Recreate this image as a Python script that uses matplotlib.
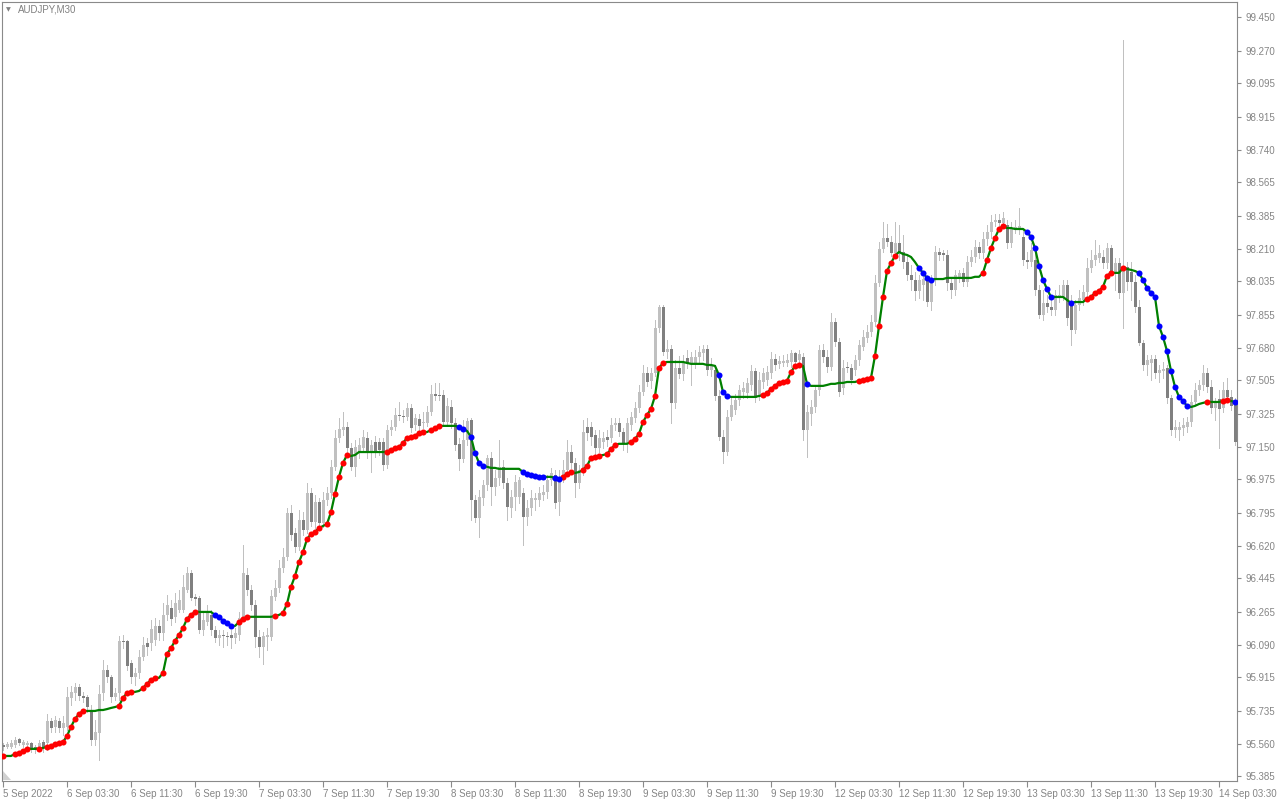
import matplotlib
matplotlib.use("Agg")
import matplotlib.pyplot as plt
import numpy as np
from matplotlib.patches import Polygon

symbol_title = "AUDJPY,M30"

opens = [
95.553, 95.543, 95.543, 95.553, 95.585, 95.553, 95.553, 95.564, 95.543, 95.543,
95.569, 95.564, 95.682, 95.650, 95.682, 95.644, 95.650, 95.805, 95.831, 95.864,
95.815, 95.810, 95.740, 95.580, 95.617, 95.831, 95.955, 95.918, 95.810, 95.831,
96.110, 96.110, 95.992, 95.918, 95.939, 96.024, 96.099, 96.099, 96.115, 96.190,
96.153, 96.249, 96.286, 96.239, 96.276, 96.276, 96.383, 96.474, 96.345, 96.340,
96.169, 96.211, 96.249, 96.169, 96.126, 96.142, 96.136, 96.142, 96.126, 96.142,
96.233, 96.463, 96.383, 96.302, 96.131, 96.077, 96.131, 96.131, 96.345, 96.393,
96.500, 96.560, 96.795, 96.688, 96.612, 96.757, 96.704, 96.902, 96.746, 96.854,
96.741, 96.865, 96.902, 97.042, 97.196, 97.239, 97.256, 97.143, 97.042, 97.121,
97.143, 97.196, 97.121, 97.175, 97.175, 97.175, 97.052, 97.239, 97.256, 97.319,
97.314, 97.309, 97.357, 97.266, 97.298, 97.277, 97.277, 97.335, 97.432, 97.426,
97.426, 97.282, 97.362, 97.277, 97.165, 97.084, 97.186, 97.293, 96.865, 96.768,
96.875, 96.945, 97.089, 96.934, 96.983, 97.042, 96.956, 96.822, 96.880, 96.880,
96.902, 96.774, 96.822, 96.865, 96.865, 96.891, 96.907, 96.972, 96.998, 96.854,
96.988, 97.025, 97.121, 97.063, 96.956, 97.025, 97.256, 97.256, 97.212, 97.143,
97.175, 97.202, 97.196, 97.266, 97.277, 97.228, 97.165, 97.266, 97.303, 97.357,
97.442, 97.544, 97.502, 97.544, 97.785, 97.898, 97.657, 97.673, 97.384, 97.571,
97.539, 97.625, 97.598, 97.598, 97.630, 97.652, 97.673, 97.560, 97.560, 97.421,
97.202, 97.121, 97.309, 97.346, 97.400, 97.442, 97.437, 97.480, 97.555, 97.416,
97.496, 97.507, 97.544, 97.620, 97.593, 97.598, 97.598, 97.603, 97.652, 97.614,
97.630, 97.239, 97.325, 97.362, 97.453, 97.668, 97.630, 97.577, 97.817, 97.710,
97.464, 97.577, 97.571, 97.560, 97.614, 97.684, 97.732, 97.764, 97.817, 98.026,
98.208, 98.267, 98.245, 98.187, 98.240, 98.192, 98.138, 98.069, 98.042, 97.984,
98.015, 98.042, 97.924, 98.042, 98.192, 98.187, 98.176, 98.026, 97.989, 98.059,
98.080, 98.031, 98.138, 98.165, 98.219, 98.187, 98.261, 98.299, 98.352, 98.363,
98.347, 98.336, 98.240, 98.310, 98.310, 98.273, 98.149, 98.138, 98.149, 97.989,
97.855, 97.919, 97.898, 97.882, 97.946, 97.951, 98.015, 97.919, 97.775, 97.908,
97.935, 97.978, 98.106, 98.149, 98.160, 98.165, 98.133, 98.213, 98.085, 98.133,
97.973, 98.112, 98.085, 98.031, 97.898, 97.705, 97.587, 97.598, 97.620, 97.544,
97.555, 97.571, 97.411, 97.239, 97.239, 97.250, 97.256, 97.282, 97.389, 97.453,
97.480, 97.544, 97.470, 97.357, 97.405, 97.357, 97.453, 97.416, 97.384,
]

closes = [
95.543, 95.559, 95.564, 95.580, 95.564, 95.569, 95.564, 95.537, 95.526, 95.564,
95.537, 95.682, 95.644, 95.687, 95.644, 95.671, 95.810, 95.837, 95.864, 95.815,
95.805, 95.757, 95.580, 95.622, 95.826, 95.955, 95.918, 95.810, 95.831, 96.110,
96.104, 95.976, 95.918, 95.939, 96.024, 96.088, 96.077, 96.174, 96.190, 96.153,
96.249, 96.302, 96.228, 96.313, 96.329, 96.399, 96.474, 96.340, 96.335, 96.169,
96.222, 96.260, 96.169, 96.126, 96.142, 96.136, 96.131, 96.126, 96.153, 96.233,
96.474, 96.383, 96.302, 96.131, 96.077, 96.136, 96.142, 96.351, 96.393, 96.500,
96.560, 96.795, 96.677, 96.612, 96.757, 96.704, 96.902, 96.746, 96.854, 96.741,
96.865, 96.902, 97.042, 97.196, 97.245, 97.256, 97.143, 97.042, 97.148, 97.159,
97.202, 97.121, 97.159, 97.121, 97.132, 97.052, 97.239, 97.256, 97.319, 97.314,
97.309, 97.357, 97.250, 97.303, 97.261, 97.282, 97.335, 97.432, 97.421, 97.421,
97.282, 97.368, 97.277, 97.159, 97.084, 97.186, 97.288, 96.865, 96.768, 96.880,
96.945, 97.089, 96.934, 96.983, 97.042, 96.956, 96.827, 96.880, 96.961, 96.972,
96.774, 96.822, 96.875, 96.875, 96.902, 96.907, 96.972, 97.009, 96.849, 96.988,
97.025, 97.121, 97.063, 96.956, 97.025, 97.228, 97.223, 97.202, 97.143, 97.196,
97.196, 97.186, 97.266, 97.277, 97.228, 97.165, 97.277, 97.309, 97.357, 97.442,
97.544, 97.496, 97.544, 97.785, 97.898, 97.657, 97.673, 97.384, 97.571, 97.539,
97.598, 97.593, 97.630, 97.630, 97.657, 97.673, 97.560, 97.587, 97.421, 97.202,
97.121, 97.309, 97.373, 97.400, 97.453, 97.464, 97.491, 97.555, 97.411, 97.507,
97.544, 97.549, 97.620, 97.587, 97.609, 97.609, 97.614, 97.652, 97.603, 97.646,
97.239, 97.335, 97.362, 97.453, 97.668, 97.630, 97.577, 97.817, 97.710, 97.442,
97.571, 97.571, 97.507, 97.614, 97.694, 97.737, 97.764, 97.817, 98.026, 98.208,
98.267, 98.245, 98.187, 98.240, 98.192, 98.138, 98.069, 98.042, 97.984, 98.042,
98.047, 97.924, 98.042, 98.192, 98.176, 98.176, 98.026, 97.989, 98.069, 98.080,
98.031, 98.138, 98.165, 98.219, 98.187, 98.261, 98.299, 98.352, 98.363, 98.347,
98.374, 98.240, 98.320, 98.326, 98.331, 98.149, 98.138, 98.203, 97.989, 97.855,
97.919, 97.898, 97.882, 97.962, 97.962, 98.015, 97.839, 97.775, 97.908, 97.946,
97.978, 98.106, 98.149, 98.176, 98.187, 98.133, 98.213, 98.085, 98.133, 97.973,
98.112, 98.031, 98.031, 97.898, 97.705, 97.587, 97.614, 97.620, 97.544, 97.560,
97.566, 97.411, 97.239, 97.256, 97.256, 97.266, 97.282, 97.389, 97.453, 97.480,
97.544, 97.470, 97.357, 97.389, 97.352, 97.453, 97.416, 97.368, 97.175,
]

highs = [
95.564, 95.569, 95.580, 95.596, 95.591, 95.580, 95.575, 95.569, 95.553, 95.580,
95.580, 95.719, 95.697, 95.708, 95.697, 95.708, 95.864, 95.869, 95.885, 95.880,
95.837, 95.820, 95.767, 95.687, 95.874, 96.008, 95.981, 95.928, 95.858, 96.136,
96.142, 96.115, 96.008, 95.965, 96.062, 96.131, 96.126, 96.222, 96.233, 96.222,
96.313, 96.356, 96.329, 96.367, 96.383, 96.463, 96.506, 96.490, 96.362, 96.351,
96.265, 96.302, 96.276, 96.190, 96.169, 96.169, 96.158, 96.169, 96.179, 96.265,
96.623, 96.500, 96.409, 96.329, 96.169, 96.158, 96.179, 96.383, 96.436, 96.543,
96.607, 96.822, 96.838, 96.714, 96.811, 96.800, 96.956, 96.929, 96.891, 96.875,
96.907, 96.934, 97.079, 97.239, 97.303, 97.335, 97.282, 97.170, 97.186, 97.196,
97.239, 97.228, 97.186, 97.207, 97.196, 97.196, 97.266, 97.293, 97.357, 97.389,
97.346, 97.384, 97.379, 97.325, 97.325, 97.335, 97.368, 97.480, 97.491, 97.491,
97.453, 97.411, 97.400, 97.303, 97.196, 97.293, 97.303, 97.303, 96.891, 96.918,
96.972, 97.105, 97.121, 97.025, 97.186, 97.079, 96.983, 96.918, 96.998, 96.988,
96.929, 96.865, 96.918, 96.902, 96.934, 96.945, 96.998, 97.036, 97.025, 97.025,
97.079, 97.186, 97.159, 97.089, 97.052, 97.293, 97.303, 97.282, 97.239, 97.239,
97.228, 97.239, 97.303, 97.303, 97.303, 97.250, 97.303, 97.335, 97.389, 97.480,
97.587, 97.577, 97.571, 97.828, 97.908, 97.908, 97.721, 97.694, 97.614, 97.636,
97.641, 97.668, 97.657, 97.668, 97.689, 97.694, 97.694, 97.625, 97.587, 97.453,
97.239, 97.346, 97.411, 97.432, 97.480, 97.496, 97.518, 97.587, 97.571, 97.549,
97.571, 97.582, 97.657, 97.646, 97.636, 97.641, 97.646, 97.668, 97.657, 97.668,
97.652, 97.373, 97.400, 97.480, 97.694, 97.700, 97.668, 97.866, 97.839, 97.732,
97.614, 97.603, 97.593, 97.641, 97.721, 97.775, 97.801, 97.855, 98.069, 98.245,
98.352, 98.342, 98.278, 98.352, 98.336, 98.283, 98.176, 98.122, 98.085, 98.069,
98.085, 98.069, 98.069, 98.224, 98.213, 98.203, 98.203, 98.053, 98.096, 98.096,
98.106, 98.171, 98.203, 98.256, 98.245, 98.299, 98.336, 98.390, 98.395, 98.395,
98.406, 98.363, 98.352, 98.363, 98.427, 98.310, 98.192, 98.240, 98.203, 98.015,
97.989, 97.962, 97.935, 97.989, 98.015, 98.042, 98.042, 97.962, 97.935, 97.989,
98.015, 98.160, 98.203, 98.256, 98.229, 98.203, 98.240, 98.229, 98.160, 98.160,
99.327, 98.138, 98.138, 98.069, 97.935, 97.721, 97.641, 97.641, 97.641, 97.587,
97.603, 97.587, 97.426, 97.293, 97.282, 97.303, 97.309, 97.426, 97.491, 97.507,
97.587, 97.571, 97.507, 97.411, 97.453, 97.496, 97.518, 97.453, 97.411,
]

lows = [
95.526, 95.537, 95.537, 95.543, 95.553, 95.543, 95.548, 95.515, 95.510, 95.526,
95.515, 95.526, 95.622, 95.622, 95.622, 95.606, 95.633, 95.767, 95.794, 95.794,
95.783, 95.729, 95.553, 95.553, 95.473, 95.794, 95.890, 95.783, 95.794, 95.794,
96.072, 95.955, 95.885, 95.874, 95.912, 96.008, 96.035, 96.062, 96.088, 96.115,
96.115, 96.222, 96.195, 96.211, 96.265, 96.265, 96.372, 96.329, 96.302, 96.153,
96.142, 96.195, 96.142, 96.104, 96.088, 96.077, 96.088, 96.072, 96.099, 96.115,
96.222, 96.356, 96.276, 96.077, 96.024, 95.987, 96.062, 96.115, 96.329, 96.372,
96.479, 96.543, 96.650, 96.586, 96.597, 96.677, 96.688, 96.725, 96.714, 96.704,
96.720, 96.838, 96.875, 97.025, 97.175, 97.212, 97.121, 97.025, 96.990, 97.089,
97.121, 97.089, 97.014, 97.094, 97.105, 97.025, 97.036, 97.212, 97.239, 97.293,
97.282, 97.293, 97.228, 97.239, 97.239, 97.250, 97.261, 97.319, 97.400, 97.400,
97.266, 97.266, 97.250, 97.132, 97.025, 97.068, 97.159, 96.757, 96.746, 96.666,
96.838, 96.918, 96.838, 96.891, 96.945, 96.929, 96.757, 96.774, 96.811, 96.849,
96.623, 96.730, 96.784, 96.811, 96.833, 96.865, 96.875, 96.945, 96.822, 96.784,
96.961, 96.998, 97.036, 96.880, 96.929, 96.998, 97.186, 97.159, 97.105, 97.121,
97.143, 97.154, 97.175, 97.239, 97.207, 97.132, 97.121, 97.239, 97.282, 97.335,
97.426, 97.475, 97.464, 97.528, 97.764, 97.641, 97.625, 97.277, 97.357, 97.518,
97.507, 97.571, 97.480, 97.571, 97.603, 97.614, 97.533, 97.528, 97.400, 97.186,
97.063, 97.105, 97.293, 97.325, 97.373, 97.411, 97.411, 97.453, 97.389, 97.400,
97.464, 97.480, 97.518, 97.560, 97.571, 97.582, 97.582, 97.577, 97.582, 97.593,
97.186, 97.094, 97.266, 97.335, 97.426, 97.603, 97.549, 97.560, 97.689, 97.421,
97.432, 97.549, 97.486, 97.533, 97.587, 97.668, 97.710, 97.743, 97.796, 98.010,
98.192, 98.224, 98.171, 98.160, 98.149, 98.106, 98.042, 97.989, 97.935, 97.946,
97.935, 97.903, 97.882, 98.015, 98.149, 98.149, 97.989, 97.946, 97.962, 98.031,
98.010, 98.010, 98.117, 98.138, 98.160, 98.160, 98.229, 98.267, 98.331, 98.320,
98.320, 98.213, 98.219, 98.294, 98.289, 98.122, 98.106, 98.117, 97.962, 97.839,
97.828, 97.871, 97.855, 97.855, 97.924, 97.935, 97.801, 97.694, 97.759, 97.882,
97.908, 97.957, 98.085, 98.122, 98.138, 98.106, 98.106, 98.069, 97.989, 97.946,
97.785, 97.989, 97.935, 97.871, 97.694, 97.560, 97.533, 97.507, 97.518, 97.496,
97.518, 97.384, 97.212, 97.202, 97.186, 97.212, 97.228, 97.261, 97.373, 97.426,
97.453, 97.442, 97.330, 97.293, 97.143, 97.335, 97.400, 97.346, 97.159,
]

indicator = [
95.494, 95.494, 95.494, 95.505, 95.510, 95.521, 95.532, 95.532, 95.532, 95.532,
95.537, 95.543, 95.548, 95.559, 95.564, 95.569, 95.601, 95.650, 95.692, 95.719,
95.735, 95.735, 95.735, 95.735, 95.740, 95.740, 95.745, 95.751, 95.756, 95.762,
95.805, 95.831, 95.837, 95.837, 95.842, 95.858, 95.880, 95.901, 95.912, 95.912,
95.939, 96.040, 96.072, 96.110, 96.142, 96.179, 96.228, 96.249, 96.265, 96.265,
96.265, 96.265, 96.265, 96.249, 96.239, 96.217, 96.206, 96.190, 96.190, 96.211,
96.228, 96.239, 96.239, 96.239, 96.239, 96.239, 96.239, 96.239, 96.244, 96.249,
96.260, 96.308, 96.399, 96.458, 96.532, 96.586, 96.655, 96.682, 96.693, 96.714,
96.725, 96.736, 96.800, 96.897, 96.988, 97.063, 97.105, 97.100, 97.105, 97.121,
97.121, 97.121, 97.121, 97.121, 97.121, 97.121, 97.121, 97.132, 97.143, 97.148,
97.170, 97.196, 97.202, 97.207, 97.223, 97.228, 97.228, 97.239, 97.250, 97.261,
97.261, 97.261, 97.261, 97.261, 97.256, 97.245, 97.234, 97.202, 97.116, 97.063,
97.047, 97.042, 97.036, 97.036, 97.031, 97.031, 97.031, 97.031, 97.031, 97.031,
97.014, 97.004, 96.998, 96.993, 96.988, 96.988, 96.988, 96.988, 96.983, 96.977,
96.988, 97.004, 97.014, 97.009, 97.014, 97.025, 97.047, 97.089, 97.094, 97.100,
97.105, 97.110, 97.137, 97.159, 97.165, 97.165, 97.165, 97.175, 97.191, 97.218,
97.282, 97.319, 97.352, 97.421, 97.571, 97.598, 97.603, 97.603, 97.603, 97.603,
97.603, 97.598, 97.593, 97.593, 97.593, 97.593, 97.587, 97.587, 97.582, 97.533,
97.442, 97.421, 97.416, 97.416, 97.416, 97.416, 97.416, 97.416, 97.416, 97.421,
97.426, 97.437, 97.459, 97.475, 97.491, 97.496, 97.502, 97.549, 97.582, 97.587,
97.582, 97.486, 97.475, 97.475, 97.475, 97.475, 97.480, 97.486, 97.486, 97.491,
97.491, 97.496, 97.496, 97.496, 97.502, 97.507, 97.512, 97.518, 97.636, 97.796,
97.951, 98.090, 98.133, 98.171, 98.192, 98.181, 98.176, 98.165, 98.138, 98.106,
98.080, 98.053, 98.042, 98.047, 98.047, 98.047, 98.053, 98.053, 98.053, 98.053,
98.053, 98.053, 98.053, 98.059, 98.059, 98.080, 98.149, 98.213, 98.267, 98.315,
98.331, 98.320, 98.320, 98.315, 98.315, 98.315, 98.299, 98.272, 98.213, 98.117,
98.042, 97.994, 97.951, 97.951, 97.951, 97.951, 97.935, 97.919, 97.924, 97.924,
97.924, 97.941, 97.951, 97.973, 97.984, 98.005, 98.064, 98.080, 98.080, 98.080,
98.106, 98.101, 98.096, 98.090, 98.080, 98.042, 97.999, 97.973, 97.951, 97.796,
97.737, 97.662, 97.555, 97.470, 97.416, 97.394, 97.368, 97.362, 97.368, 97.378,
97.384, 97.389, 97.389, 97.389, 97.389, 97.394, 97.400, 97.394, 97.389,
]

# r = rising dot, b = falling dot, . = no dot (one char per bar)
dot_codes = [
    "r", "..", "rrrr", "..", "r", ".", "rrrrrrrrrr", "........", "rrrr", "..",
    "rrrr", ".", "rrrrrrrrr", "....", "bbbbb", ".", "rrr", "......", "r", ".",
    "rrrrrrrrrr", ".", "rrrrrr", ".........", "rrrrrrrrrr", ".", "rrr", "....",
    "bb", ".", "bbbb", ".........", "bbbbbb", "..", "bb", "rrr", "..", "rrrrr",
    ".", "rrr", "...", "rrrrrrrrr", ".............", "bbb", "........",
    "rrrrrrrrrr", ".", "b", "............", "rrrrrrrrrr", ".....", "bbbb",
    "............", "rrrrrr", ".....", "bbbbbbb", "....", "b", "...", "rrrrrrr",
    "..", "r", "...", "bbbbbbbbbbbbb", "....", "r", "...", "rr", ".", "b",
]

x_labels = ["5 Sep 2022", "6 Sep 03:30", "6 Sep 11:30", "6 Sep 19:30",
            "7 Sep 03:30", "7 Sep 11:30", "7 Sep 19:30", "8 Sep 03:30",
            "8 Sep 11:30", "8 Sep 19:30", "9 Sep 03:30", "9 Sep 11:30",
            "9 Sep 19:30", "12 Sep 03:30", "12 Sep 11:30", "12 Sep 19:30",
            "13 Sep 03:30", "13 Sep 11:30", "13 Sep 19:30", "14 Sep 03:30"]
bars_per_label = 16

y_labels = ["99.450", "99.270", "99.095", "98.915", "98.740", "98.565",
            "98.385", "98.210", "98.035", "97.855", "97.680", "97.505",
            "97.325", "97.150", "96.975", "96.795", "96.620", "96.445",
            "96.265", "96.090", "95.915", "95.735", "95.560", "95.385"]

# ---------------------------------------------------------------
W, H = 1280, 800
fig = plt.figure(figsize=(W / 100, H / 100), dpi=100)
fig.patch.set_facecolor("white")

left_px, right_px, top_px, bottom_px = 2, 1237, 2, 781
ax = fig.add_axes([left_px / W, (H - bottom_px) / H,
                   (right_px - left_px) / W, (bottom_px - top_px) / H])
ax.set_facecolor("white")

o = np.array(opens)
c = np.array(closes)
hi = np.array(highs)
lo = np.array(lows)
n = len(c)
x = np.arange(n)
bull = c >= o

LIGHT = "#c0c0c0"
DARK = "#808080"

ax.vlines(x, lo, hi, color=LIGHT, lw=0.72, zorder=1, antialiased=False)
body_bottom = np.minimum(o, c)
body_h = np.maximum(np.abs(c - o), 0.005)
ax.bar(x[bull], body_h[bull], bottom=body_bottom[bull], width=0.75,
       color=LIGHT, linewidth=0, zorder=2, antialiased=False)
ax.bar(x[~bull], body_h[~bull], bottom=body_bottom[~bull], width=0.75,
       color=DARK, linewidth=0, zorder=2, antialiased=False)

ind = np.array(indicator)
ax.plot(x, ind, color="#008000", lw=1.6, zorder=3, solid_capstyle="round",
        solid_joinstyle="round")

dots = "".join(dot_codes)
m = min(len(dots), n)
red_idx = [i for i in range(m) if dots[i] == "r"]
blue_idx = [i for i in range(m) if dots[i] == "b"]
ax.scatter(x[red_idx], ind[red_idx], s=19, color="#ff0000", linewidths=0, zorder=4)
ax.scatter(x[blue_idx], ind[blue_idx], s=19, color="#0000ff", linewidths=0, zorder=4)

# axes ranges
price_top = 99.530
price_bottom = 95.360
ax.set_ylim(price_bottom, price_top)
ax.set_xlim(-0.25, 308.5)

TXT = "#858585"
FONT = ["Liberation Sans", "DejaVu Sans"]

ax.yaxis.tick_right()
ax.set_yticks([float(v) for v in y_labels])
ax.set_yticklabels(y_labels, fontsize=7, color=TXT, family=FONT)
ax.tick_params(axis="y", which="both", length=3, width=0.8, pad=3, colors="#8a8a8a",
               labelcolor=TXT)

xt = [k * bars_per_label for k in range(len(x_labels))]
ax.set_xticks(xt)
ax.set_xticklabels(x_labels, fontsize=7, color=TXT, family=FONT)
for lbl in ax.get_xticklabels():
    lbl.set_horizontalalignment("left")
ax.tick_params(axis="x", which="both", length=4, width=0.8, pad=2, colors="#8a8a8a",
               labelcolor=TXT)

for s in ax.spines.values():
    s.set_color("#8a8a8a")
    s.set_linewidth(0.8)

# title with small triangle
fig.text(8 / W, 1 - 10 / H, "\u25BC", fontsize=4.5, color="#808080",
         ha="center", va="center", family="DejaVu Sans")
fig.text(18 / W, 1 - 10 / H, symbol_title, fontsize=7, color="#808080",
         ha="left", va="center", family=FONT)

# small corner marker at bottom-left
tri = Polygon([(3 / W, (H - 771) / H), (3 / W, (H - 780) / H), (11 / W, (H - 780) / H)],
              closed=True, transform=fig.transFigure, facecolor="#d0d0d0",
              edgecolor="none", zorder=5)
fig.patches.append(tri)

fig.savefig("out.png", dpi=100, facecolor="white")
